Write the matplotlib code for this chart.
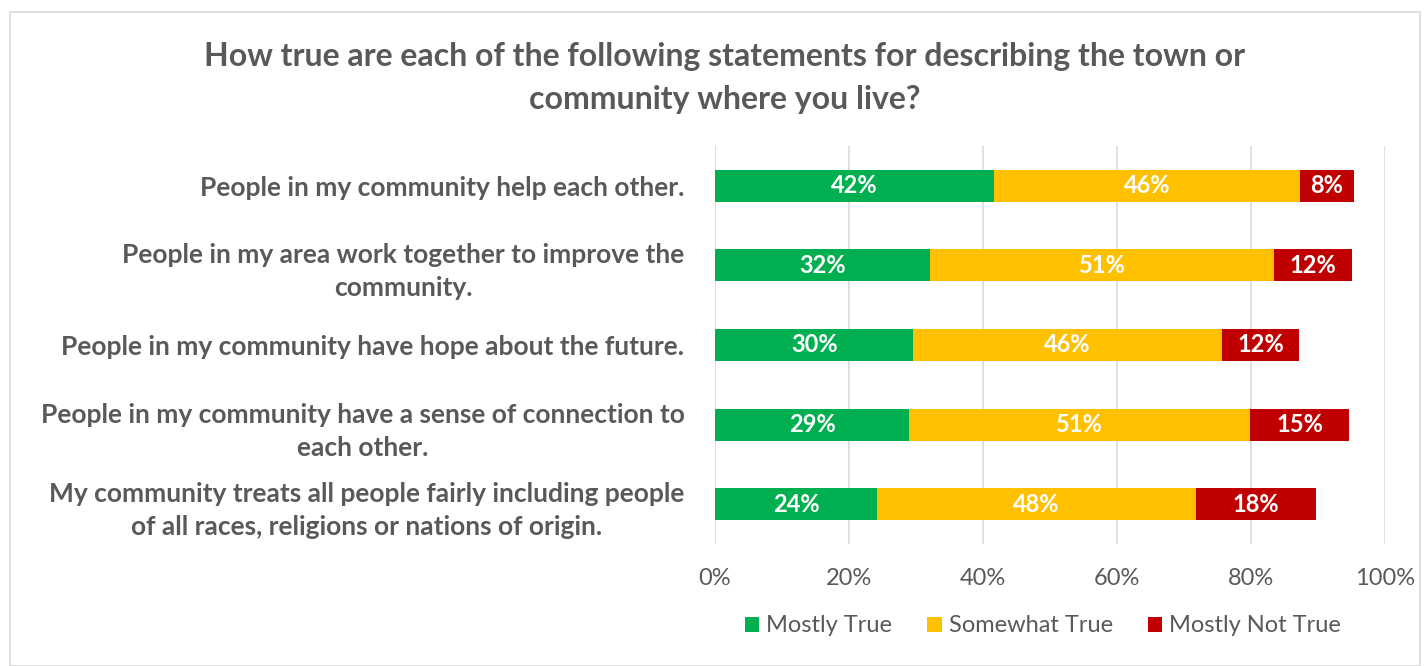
import matplotlib.pyplot as plt
from matplotlib.patches import Patch, Rectangle
from matplotlib.ticker import PercentFormatter

# values (percent)
statements = [
    "People in my community help each other.",
    "People in my area work together to improve the\ncommunity.",
    "People in my community have hope about the future.",
    "People in my community have a sense of connection to\neach other.",
    "My community treats all people fairly including people\nof all races, religions or nations of origin.",
]
mostly_true = [41.6, 32.1, 29.6, 29.0, 24.2]
somewhat_true = [45.7, 51.3, 46.0, 50.8, 47.6]
mostly_not_true = [8.1, 11.6, 11.6, 14.9, 17.9]
series_names = ["Mostly True", "Somewhat True", "Mostly Not True"]
colors = ["#00B050", "#FFC000", "#C00000"]
x_ticks = [0, 20, 40, 60, 80, 100]

title = ("How true are each of the following statements for describing the town or\n"
         "community where you live?")

GRAY = "#595959"
plt.rcParams["font.family"] = ["Lato", "DejaVu Sans"]

W, H = 1425, 666
fig = plt.figure(figsize=(W / 100, H / 100), dpi=100)

# thin chart border
fig.patches.append(Rectangle((10 / W, 0.0), 1410 / W, 1 - 12 / H,
                             transform=fig.transFigure, fill=False,
                             edgecolor="#D9D9D9", linewidth=1.2))

ax = fig.add_axes([715 / W, 1 - 544 / H, 670 / W, 398 / H])

ypos = list(range(len(statements)))
left = [0.0] * len(statements)
for vals, name, col in zip([mostly_true, somewhat_true, mostly_not_true], series_names, colors):
    bars = ax.barh(ypos, vals, left=left, height=0.4, color=col, label=name, zorder=3)
    for b, v in zip(bars, vals):
        ax.text(b.get_x() + b.get_width() / 2, b.get_y() + b.get_height() / 2,
                f"{round(v)}%", ha="center", va="center", color="white",
                fontsize=17, fontweight="bold", zorder=4)
    left = [l + v for l, v in zip(left, vals)]

ax.set_xlim(0, 100)
ax.set_ylim(len(statements) - 0.5, -0.5)
ax.set_xticks(x_ticks)
ax.xaxis.set_major_formatter(PercentFormatter(decimals=0))
ax.grid(axis="x", color="#D9D9D9", linewidth=1.2, zorder=0)
for s in ax.spines.values():
    s.set_visible(False)
ax.tick_params(axis="x", length=0, pad=17, labelsize=17, labelcolor=GRAY)
ax.tick_params(axis="y", length=0, pad=22)
ax.set_yticks(ypos)
ax.set_yticklabels(statements, fontsize=19, fontweight="bold", color=GRAY,
                   multialignment="center", linespacing=1.45)

fig.text(725 / W, 1 - 78 / H, title, ha="center", va="center", fontsize=23,
         fontweight="bold", color=GRAY, linespacing=1.6)

handles = [Patch(facecolor=c, label=n) for c, n in zip(colors, series_names)]
fig.legend(handles=handles, loc="center", bbox_to_anchor=(1043 / W, 1 - 626 / H),
           ncol=3, frameon=False, fontsize=17, labelcolor=GRAY,
           handlelength=0.6, handleheight=0.6, handletextpad=0.3, columnspacing=1.5)

fig.savefig("out.png", dpi=100)
